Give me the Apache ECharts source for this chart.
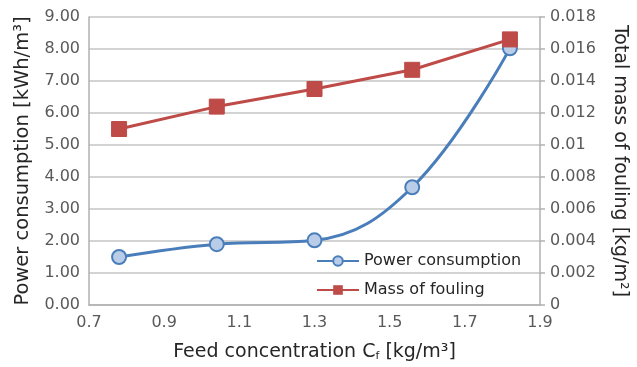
<!DOCTYPE html>
<html><head><meta charset="utf-8">
<script src="https://cdn.jsdelivr.net/npm/echarts@6/dist/echarts.min.js"></script>
<style>html,body{margin:0;padding:0;background:#fff}#c{width:637px;height:367px}</style>
</head><body><div id="c"></div>
<script>
const feedConc = [0.78, 1.04, 1.30, 1.56, 1.82];
const powerConsumption = [1.50, 1.90, 2.02, 3.68, 8.02];
const foulingMass = [0.0110, 0.0124, 0.0135, 0.0147, 0.0166];
const seriesNames = ['Power consumption', 'Mass of fouling'];

const FONT = 'DejaVu Sans';
const chart = echarts.init(document.getElementById('c'));
chart.setOption({
  animation: false,
  backgroundColor: '#fff',
  textStyle: {fontFamily: FONT},
  grid: {left: 89, right: 94, top: 17, bottom: 60},
  legend: {
    orient: 'vertical', left: 311, top: 248,
    itemWidth: 42, itemHeight: 12, itemGap: 13,
    textStyle: {fontFamily: FONT, fontSize: 16, color: '#262626'},
    data: seriesNames
  },
  xAxis: {
    type: 'value', min: 0.7, max: 1.9, interval: 0.2,
    name: 'Feed concentration C{sub|f} [kg/m³]',
    nameLocation: 'middle', nameGap: 38,
    nameTextStyle: {fontFamily: FONT, fontSize: 19, color: '#262626',
      rich: {sub: {fontFamily: FONT, fontSize: 11, color: '#262626', verticalAlign: 'bottom', padding: [8,0,0,0]}}},
    axisLine: {show: true, lineStyle: {color: '#b0b0b0', width: 1.5}},
    axisTick: {show: false},
    splitLine: {show: false},
    axisLabel: {fontFamily: FONT, fontSize: 16, color: '#595959', margin: 10,
      formatter: v => v.toFixed(1)}
  },
  yAxis: [{
    type: 'value', min: 0, max: 9, interval: 1,
    name: 'Power consumption [kWh/m³]',
    nameLocation: 'middle', nameGap: 56, nameRotate: 90,
    nameTextStyle: {fontFamily: FONT, fontSize: 19.5, color: '#262626'},
    axisLine: {show: true, lineStyle: {color: '#b0b0b0', width: 1.5}},
    axisTick: {show: false},
    splitLine: {show: true, lineStyle: {color: '#c4c4c4', width: 1.5}},
    axisLabel: {fontFamily: FONT, fontSize: 16, color: '#595959', margin: 9,
      formatter: v => v.toFixed(2)}
  }, {
    type: 'value', min: 0, max: 0.018, interval: 0.002, position: 'right',
    name: 'Total mass of fouling [kg/m²]',
    nameLocation: 'middle', nameGap: 70, nameRotate: -90,
    nameTextStyle: {fontFamily: FONT, fontSize: 19, color: '#262626'},
    axisLine: {show: true, lineStyle: {color: '#b0b0b0', width: 1.5}},
    axisTick: {show: true, length: 5, lineStyle: {color: '#b0b0b0', width: 1.5}},
    splitLine: {show: false},
    axisLabel: {fontFamily: FONT, fontSize: 16, color: '#595959', margin: 10,
      formatter: v => String(+v.toFixed(3))}
  }],
  series: [{
    name: seriesNames[0], type: 'line', yAxisIndex: 0,
    data: feedConc.map((x, i) => [x, powerConsumption[i]]),
    smooth: 0.4,
    symbol: 'circle', symbolSize: 14,
    lineStyle: {color: '#4a7ebb', width: 3},
    itemStyle: {color: '#b9cde8', borderColor: '#4a7ebb', borderWidth: 2}
  }, {
    name: seriesNames[1], type: 'line', yAxisIndex: 1,
    data: feedConc.map((x, i) => [x, foulingMass[i]]),
    symbol: 'rect', symbolSize: 15,
    lineStyle: {color: '#be4b48', width: 3},
    itemStyle: {color: '#be4b48', borderColor: '#be4b48'}
  }]
});
</script></body></html>
